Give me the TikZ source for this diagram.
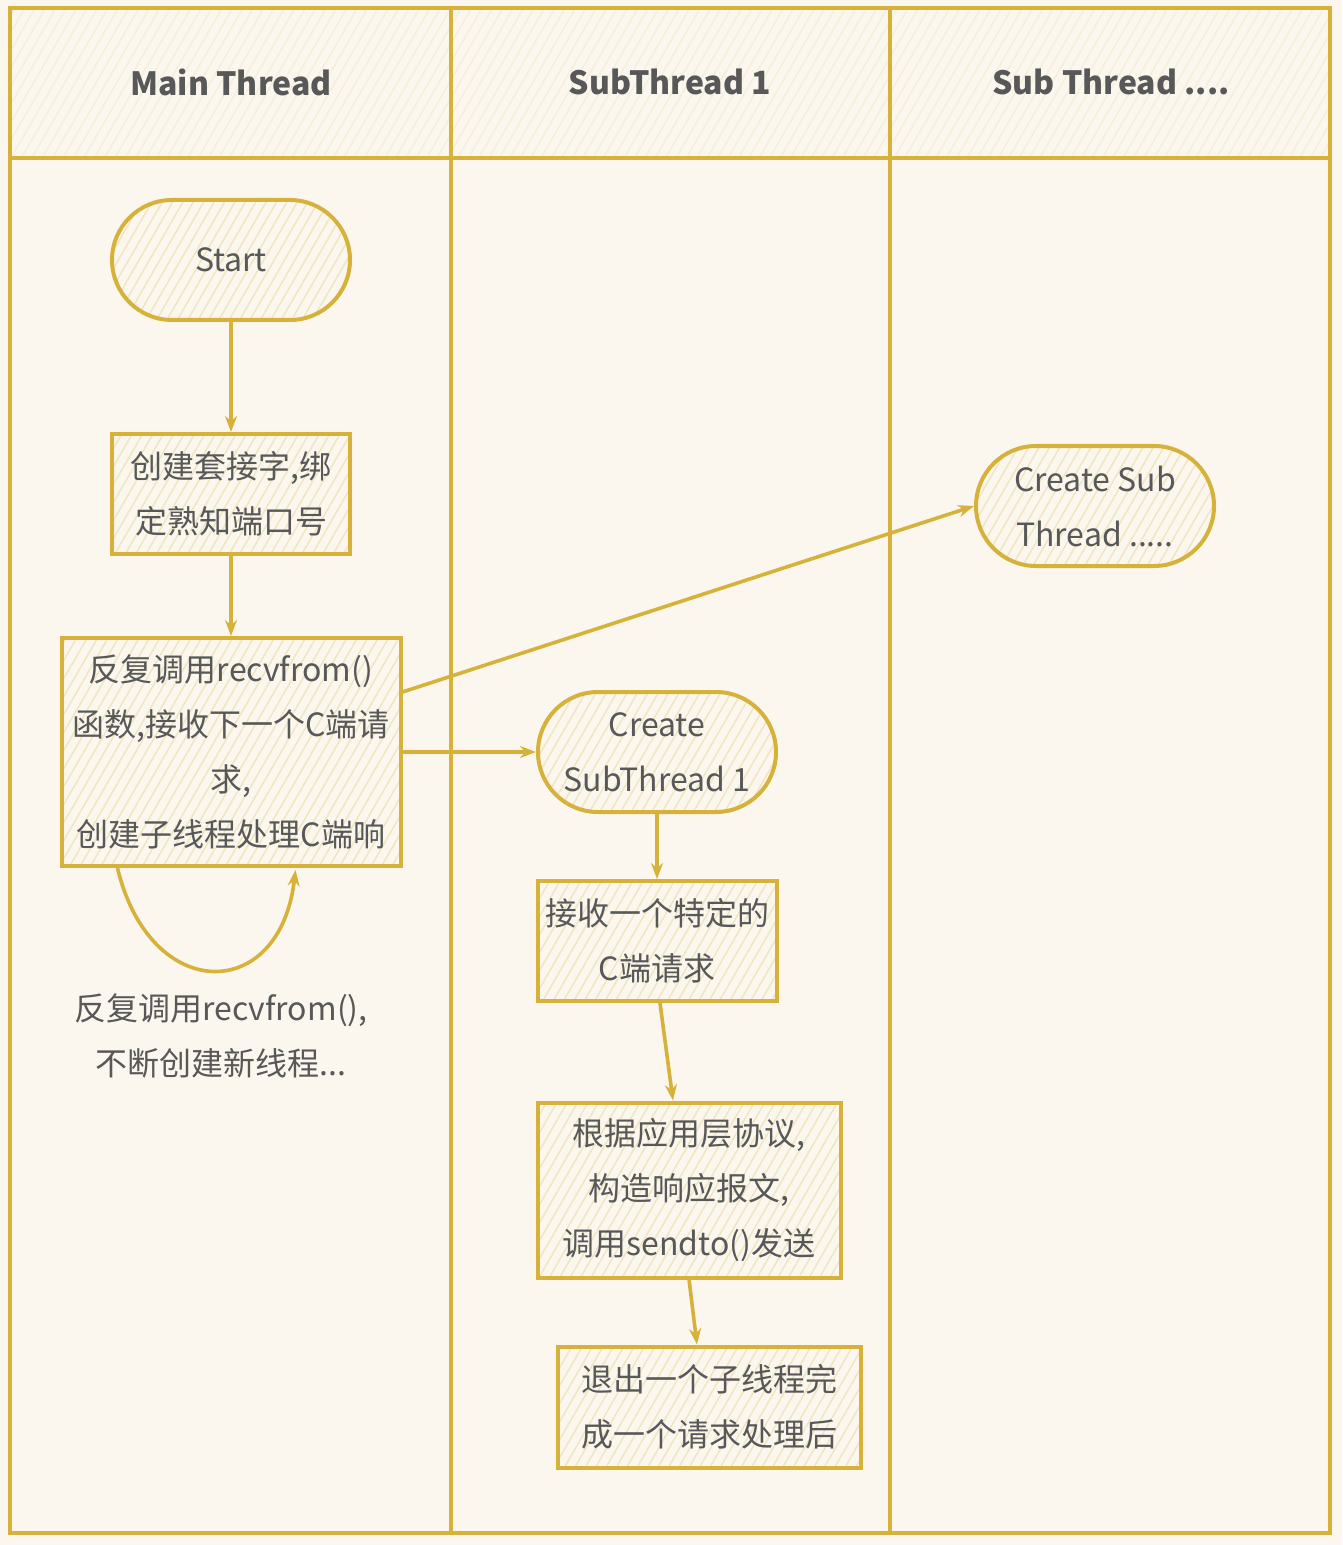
\documentclass[tikz,border=0pt]{standalone}
\usepackage{fontspec}
\setmainfont{Noto Sans CJK SC}
\usetikzlibrary{patterns.meta,calc,arrows.meta}
\definecolor{gold}{RGB}{214,178,58}
\definecolor{bg}{RGB}{251,247,238}
\definecolor{hatch}{RGB}{240,229,192}
\definecolor{headhatch}{RGB}{245,238,218}
\definecolor{txt}{RGB}{88,88,88}
\begin{document}
\begin{tikzpicture}[x=0.5pt,y=-0.5pt,>={Stealth[length=8pt,width=6pt]},
	hatched/.style={preaction={fill=bg},pattern={Lines[angle=60,distance=4.5pt,line width=0.7pt]},pattern color=#1},
	hatched/.default=hatch,
	lane/.style={draw=gold,line width=2pt},
	head/.style={text=txt,font=\fontsize{16}{20}\selectfont\bfseries},
	plain/.style={text=txt,align=center,font=\fontsize{16}{27.5}\selectfont},
	box/.style={plain,draw=gold,line width=2pt,hatched,inner sep=2pt},
	stadium/.style={box,rounded corners=30pt,minimum width=119pt,minimum height=60pt},
	arr/.style={draw=gold,line width=1.8pt,->}]
	\fill[bg] (0,0) rectangle (1342,1545);
	\fill[hatched=headhatch] (10,8) rectangle (1330,158);
	\draw[lane] (10,8) rectangle (1330,1533);
	\draw[lane] (10,158)--(1330,158) (451,8)--(451,1533) (890,8)--(890,1533);
	\node[head] (h1) at (231,82) {Main Thread};
	\node[head] (h2) at (670,82) {SubThread 1};
	\node[head] (h3) at (1111,82) {Sub Thread ....};
	\node[stadium] (start) at (231,260) {Start};
	\node[box,minimum width=119pt,minimum height=60pt] (bind) at (231,494) {创建套接字,绑\\定熟知端口号};
	\node[box,minimum width=169.5pt,minimum height=114pt] (recv) at (231,752) {反复调用recvfrom()\\函数,接收下一个C端请\\求,\\创建子线程处理C端响};
	\node[plain] (loopnote) at (221,1036) {反复调用recvfrom(),\\不断创建新线程...};
	\node[stadium] (sub1) at (657,752) {Create\\SubThread 1};
	\node[box,minimum width=119.5pt,minimum height=60pt] (accept) at (657,941) {接收一个特定的\\C端请求};
	\node[box,minimum width=151.5pt,minimum height=87.5pt] (reply) at (689,1190) {根据应用层协议,\\构造响应报文,\\调用sendto()发送};
	\node[box,minimum width=151.5pt,minimum height=60.5pt] (quit) at (709,1407) {退出一个子线程完\\成一个请求处理后};
	\node[stadium] (subn) at (1095,506) {Create Sub\\Thread .....};
	\draw[arr] (start.south)--(bind.north);
	\draw[arr] (bind.south)--(recv.north);
	\draw[arr] (recv.east)--(sub1.west);
	\draw[arr] ($(recv.east)+(0,-60)$)--(subn.west);
	\draw[arr] ($(recv.south west)+(58,0)$) .. controls (150,1004) and (280,1004) .. ($(recv.south west)+(236,2)$);
	\draw[arr] (sub1.south)--(accept.north);
	\draw[arr] ($(accept.south)+(3,0)$)--($(reply.north)+(-16,0)$);
	\draw[arr] (reply.south)--($(quit.north)+(-12,0)$);
\end{tikzpicture}
\end{document}
